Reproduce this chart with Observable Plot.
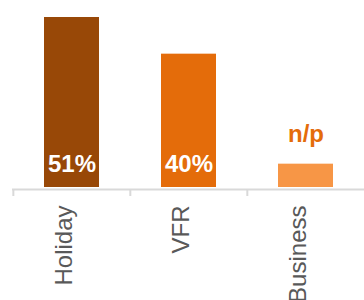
<!DOCTYPE html>
<html>
<head>
<meta charset="utf-8">
<script src="https://cdn.jsdelivr.net/npm/d3@7"></script>
<script src="https://cdn.jsdelivr.net/npm/@observablehq/plot@0.6"></script>
<style>
  html, body { margin: 0; padding: 0; background: #fff; }
  #chart svg { display: block; }
</style>
</head>
<body>
<div id="chart"></div>
<script>
const categories = ["Holiday", "VFR", "Business"];
const values = [51, 40, 7];
const labels = ["51%", "40%", "n/p"];
const colors = ["#984807", "#E46C0A", "#F79646"];

const data = categories.map((c, i) => ({category: c, value: values[i], label: labels[i]}));
const inside = data.filter(d => d.label !== "n/p");
const outside = data.filter(d => d.label === "n/p");

const W = 364, H = 300, mL = 12, mR = 0;
const step = (W - mL - mR) / categories.length;
const font = "'Liberation Sans', Arial, Helvetica, sans-serif";

const chart = Plot.plot({
  width: W,
  height: H,
  marginTop: 17,
  marginBottom: 113,
  marginLeft: mL,
  marginRight: mR,
  style: {fontFamily: font, background: "#fff"},
  x: {domain: categories, paddingInner: 0.531, paddingOuter: 0.2655, axis: null},
  y: {domain: [0, 51], axis: null},
  color: {domain: categories, range: colors},
  marks: [
    Plot.barY(data, {x: "category", y: "value", fill: "category"}),
    Plot.ruleY([0], {dy: 2, stroke: "#D9D9D9", strokeWidth: 2}),
    Plot.ruleX(categories, {x: d => d, y1: 0, y2: 0, insetTop: 2, insetBottom: -9, dx: -step / 2, stroke: "#D9D9D9", strokeWidth: 2}),
    Plot.text(inside, {x: "category", y: 0, text: "label", dy: -23, fill: "#fff", fontSize: 24, fontWeight: "bold"}),
    Plot.text(outside, {x: "category", y: "value", text: "label", lineAnchor: "bottom", dy: -22, fill: "#E46C0A", fontSize: 24, fontWeight: "bold"}),
    Plot.text(categories, {x: d => d, frameAnchor: "bottom", rotate: -90, textAnchor: "end", dy: 18, fill: "#595959", fontSize: 24})
  ]
});
document.getElementById("chart").appendChild(chart);
</script>
</body>
</html>
